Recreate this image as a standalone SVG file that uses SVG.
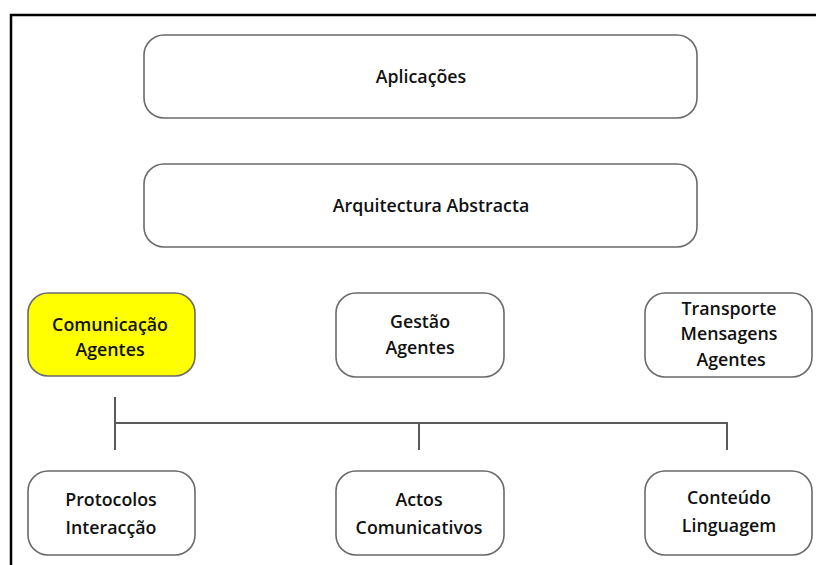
<svg xmlns="http://www.w3.org/2000/svg" width="816" height="565" viewBox="0 0 816 565">
  <style>
    .box { fill: #ffffff; stroke: #6a6a6a; stroke-width: 1.6; }
    .hl { fill: #ffff00; }
    .lbl { font-family: "Open Sans", "Liberation Sans", sans-serif; font-weight: 600; font-size: 17.8px; fill: #111; text-anchor: middle; }
    .conn { stroke: #5a5a5a; stroke-width: 2; fill: none; }
  </style>
  <rect width="816" height="565" fill="#ffffff"/>
  <!-- frame -->
  <path d="M11 565 V15 H816" fill="none" stroke="#000" stroke-width="2.5"/>

  <g id="aplicacoes">
    <rect class="box" x="144" y="35" width="553" height="83" rx="20"/>
    <text class="lbl" x="421" y="83">Aplicações</text>
  </g>
  <g id="arquitectura">
    <rect class="box" x="144" y="164" width="553" height="83" rx="20"/>
    <text class="lbl" x="431" y="212">Arquitectura Abstracta</text>
  </g>
  <g id="comunicacao">
    <rect class="box hl" x="28" y="293" width="167" height="83" rx="20"/>
    <text class="lbl" x="110" y="331">Comunicação</text>
    <text class="lbl" x="110" y="356">Agentes</text>
  </g>
  <g id="gestao">
    <rect class="box" x="336" y="293" width="168" height="84" rx="20"/>
    <text class="lbl" x="420" y="328">Gestão</text>
    <text class="lbl" x="420" y="354">Agentes</text>
  </g>
  <g id="transporte">
    <rect class="box" x="645" y="293" width="167" height="84" rx="20"/>
    <text class="lbl" x="729" y="315">Transporte</text>
    <text class="lbl" x="729" y="340">Mensagens</text>
    <text class="lbl" x="731" y="366">Agentes</text>
  </g>
  <g id="protocolos">
    <rect class="box" x="28" y="471" width="167" height="84" rx="20"/>
    <text class="lbl" x="111" y="506">Protocolos</text>
    <text class="lbl" x="111" y="534">Interacção</text>
  </g>
  <g id="actos">
    <rect class="box" x="336" y="471" width="168" height="84" rx="20"/>
    <text class="lbl" x="419" y="506">Actos</text>
    <text class="lbl" x="419" y="534">Comunicativos</text>
  </g>
  <g id="conteudo">
    <rect class="box" x="645" y="471" width="167" height="84" rx="20"/>
    <text class="lbl" x="729" y="504">Conteúdo</text>
    <text class="lbl" x="729" y="532">Linguagem</text>
  </g>

  <g id="connectors">
    <path class="conn" d="M115 397 V450"/>
    <path class="conn" d="M115 423 H727 V450"/>
    <path class="conn" d="M419 423 V450"/>
  </g>
</svg>
